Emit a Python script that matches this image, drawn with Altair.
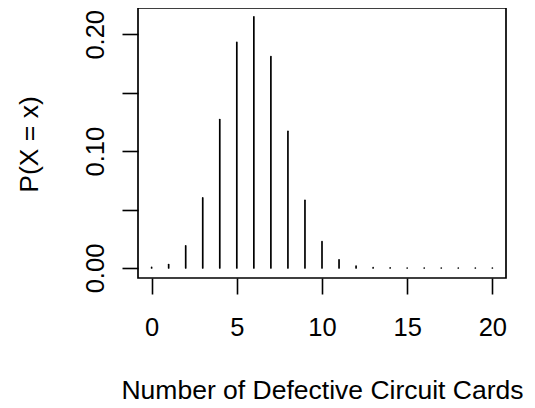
import altair as alt
import pandas as pd

x_vals = list(range(0, 21))
probs = [0.0005, 0.003, 0.019, 0.060, 0.127, 0.193, 0.215, 0.181, 0.117, 0.058,
         0.0225, 0.007, 0.0017, 0.0003, 0.0001, 0.00002, 0.0, 0.0, 0.0, 0.0, 0.0]
x_ticks = [0, 5, 10, 15, 20]
y_ticks = [0.0, 0.05, 0.10, 0.15, 0.20]

df = pd.DataFrame({"x": x_vals, "p": probs})

FONT = "Liberation Sans"
FS = 25.5
TFS = 26.5

chart = alt.Chart(df).mark_rule(color="black", strokeWidth=1.7, strokeCap="round").encode(
    x=alt.X("x:Q", scale=alt.Scale(domain=[-0.8, 20.8], nice=False, zero=False),
            axis=alt.Axis(values=x_ticks, title="Number of Defective Circuit Cards",
                          domain=False, grid=False, tickSize=16, tickWidth=1.6, tickColor="black",
                          labelPadding=21, labelFontSize=FS, labelFont=FONT, labelColor="black",
                          labelBaseline="top", labelFlush=False, labelOverlap=False,
                          titleFont=FONT, titleFontSize=TFS, titleFontWeight="normal", titleColor="black",
                          titleBaseline="alphabetic", titleY=120, titleX=184, titleAlign="center")),
    y=alt.Y("p:Q", scale=alt.Scale(domain=[-0.00855, 0.2225], nice=False, zero=False),
            axis=alt.Axis(values=y_ticks, title="P(X = x)",
                          labelExpr="(round(datum.value*100) % 10 == 0) ? format(datum.value, '.2f') : ''",
                          domain=False, grid=False, tickSize=16, tickWidth=1.6, tickColor="black",
                          labelPadding=19, labelFontSize=FS, labelFont=FONT, labelColor="black",
                          labelAngle=270, labelAlign="center", labelBaseline="alphabetic",
                          labelFlush=False, labelOverlap=False,
                          titleFont=FONT, titleFontSize=TFS, titleFontWeight="normal", titleColor="black",
                          titleAngle=270, titleBaseline="alphabetic", titleAlign="center",
                          titleX=-101, titleY=136)),
    y2=alt.datum(0.0),
).properties(
    width=368, height=270,
    background="white",
    autosize=alt.AutoSizeParams(type="none"),
    padding={"left": 130, "top": 0, "right": 20, "bottom": 128},
).configure_view(stroke="black", strokeWidth=1.7, fill="white")

chart.save("out.html", embed_options={"renderer": "svg", "actions": False})
